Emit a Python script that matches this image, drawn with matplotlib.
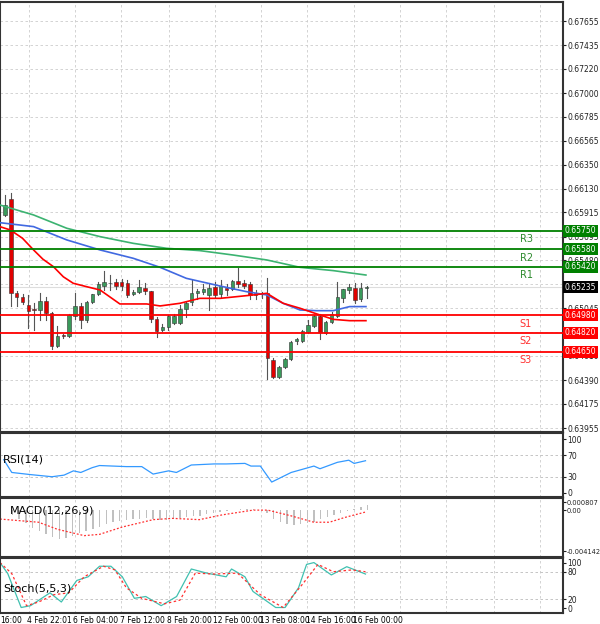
import matplotlib
matplotlib.use("Agg")
import matplotlib.pyplot as plt
import numpy as np

# ---------------- data ----------------
opens  = [0.6589,0.6604,0.6518,0.6515,0.6507,0.6504,0.6503,0.6511,0.6500,0.6470,0.6480,0.6479,0.6497,0.6506,0.6494,0.6510,
          0.6517,0.6525,0.6527,0.6528,0.6528,0.6527,0.6517,0.6519,0.6523,0.6520,0.6495,0.6485,0.6487,0.6491,0.6491,0.6504,
          0.6510,0.6518,0.6519,0.6516,0.6524,0.6517,0.6523,0.6522,0.6529,0.6527,0.6526,0.6518,0.6517,0.6518,0.6457,0.6442,
          0.6451,0.6458,0.6475,0.6475,0.6483,0.6488,0.6497,0.6482,0.6492,0.6497,0.6514,0.6521,0.6523,0.6513,0.6523]
highs  = [0.6607,0.6609,0.6520,0.6517,0.6516,0.6509,0.6518,0.6515,0.6501,0.6488,0.6481,0.6499,0.6518,0.6509,0.6511,0.6517,
          0.6528,0.6538,0.6535,0.6531,0.6531,0.6530,0.6521,0.6530,0.6527,0.6520,0.6496,0.6490,0.6498,0.6499,0.6507,0.6510,
          0.6530,0.6522,0.6526,0.6527,0.6528,0.6530,0.6526,0.6530,0.6541,0.6530,0.6528,0.6521,0.6519,0.6532,0.6459,0.6452,
          0.6459,0.6475,0.6477,0.6485,0.6494,0.6498,0.6499,0.6493,0.6501,0.6528,0.6522,0.6526,0.6527,0.6527,0.6525]
lows   = [0.6588,0.6506,0.6506,0.6508,0.6486,0.6485,0.6494,0.6494,0.6467,0.6469,0.6477,0.6478,0.6495,0.6486,0.6492,0.6509,
          0.6516,0.6521,0.6521,0.6522,0.6521,0.6515,0.6516,0.6518,0.6517,0.6492,0.6478,0.6484,0.6485,0.6490,0.6490,0.6496,
          0.6507,0.6513,0.6517,0.6503,0.6515,0.6515,0.6516,0.6521,0.6524,0.6523,0.6513,0.6513,0.6514,0.6440,0.6441,0.6441,
          0.6450,0.6457,0.6472,0.6474,0.6482,0.6487,0.6476,0.6481,0.6491,0.6496,0.6510,0.6518,0.6509,0.6511,0.6514]
closes = [0.6598,0.6518,0.6515,0.6510,0.6502,0.6503,0.6511,0.6500,0.6470,0.6479,0.6479,0.6498,0.6506,0.6494,0.6510,0.6517,
          0.6526,0.6528,0.6527,0.6525,0.6525,0.6516,0.6519,0.6524,0.6520,0.6495,0.6484,0.6487,0.6497,0.6497,0.6504,0.6509,
          0.6518,0.6520,0.6522,0.6523,0.6516,0.6525,0.6521,0.6529,0.6526,0.6525,0.6516,0.6516,0.6517,0.6459,0.6442,0.6451,
          0.6458,0.6474,0.6476,0.6484,0.6489,0.6497,0.6483,0.6492,0.6499,0.6515,0.6522,0.6524,0.6512,0.6523,0.6524]

ma_red_x = [-0.9,0.9,3.0,4.9,6.5,8.3,10.0,11.7,14,16.3,19.7,24.3,26.6,30,33.4,36.9,42.6,44.9,47.7,50.6,54,56.3,59.1,61.9]
ma_red_y = [0.65786,0.65756,0.65680,0.65574,0.65490,0.65422,0.65330,0.65271,0.65240,0.65210,0.65083,0.65083,0.65065,
            0.65089,0.65134,0.65134,0.65165,0.65180,0.65089,0.65044,0.64983,0.64943,0.64931,0.64931]
ma_blue_x = [-0.9,4.9,10.6,16.3,22,26.6,31.1,36.9,41.4,44.9,47.7,50.6,53.4,56.3,59.1,61.9]
ma_blue_y = [0.65822,0.65786,0.65665,0.65574,0.65498,0.65416,0.65316,0.65246,0.65195,0.65165,0.65089,0.65028,0.65022,
             0.65022,0.65059,0.65059]
ma_green_x = [-0.9,4.9,10.6,16.3,22,27.7,33.4,39.1,44.9,50.6,56.3,61.9]
ma_green_y = [0.65983,0.65892,0.65771,0.65695,0.65634,0.65589,0.65568,0.65528,0.65483,0.65416,0.65386,0.65346]

res_levels = [0.6542,0.6558,0.6575]
res_names = ["R1","R2","R3"]
sup_levels = [0.6498,0.6482,0.6465]
sup_names = ["S1","S2","S3"]
last_price = 0.65235

price_ticks = [0.67655,0.67435,0.67220,0.67000,0.66785,0.66565,0.66350,0.66130,0.65915,0.65695,0.65480,0.65260,
               0.65045,0.64825,0.64610,0.64390,0.64175,0.63955]

rsi_x = [-0.22,1.16,4.38,8.06,10.12,11.73,13.0,14.95,16.2,20.8,23.45,25.4,28.05,29.4,31.95,35.86,37.93,41.15,42.18,
         43.79,45.74,49.08,52.98,54.02,57.0,58.96,59.87,61.83]
rsi_y = [62,38,34,30,33,41,38,47,51,49,49,35,41,38,52,54,54,55,50,50,20,38,50,45,57,61,55,60]

macd_hist = [-0.5,-0.9,-1.3,-1.8,-2.1,-2.4,-2.7,-2.9,-2.8,-2.6,-2.3,-2.1,-1.9,-1.7,-1.4,-1.2,-1.1,-1.0,-0.9,-0.9,-0.8,
             -0.9,-1.0,-1.0,-0.9,-0.8,-0.7,-0.6,-0.6,-0.4,-0.3,-0.2,-0.1,0.0,0.1,0.1,0.1,0.05,-0.3,-0.9,-1.2,-1.4,-1.5,
             -1.4,-1.3,-1.2,-0.9,-0.7,-0.5,-0.3,-0.1,0.1,0.3,0.5]
macd_sig_x = [-0.86,5.76,8.98,13.57,16.21,20.12,25.41,28.74,33.33,37.24,42.53,45.05,49.08,52.98,55.62,58.27,61.83]
macd_sig_y = [-0.9,-1.22,-1.93,-2.57,-2.44,-1.7,-0.96,-0.83,-0.96,-0.48,0.0,0.0,-0.58,-1.22,-1.22,-0.74,-0.19]

st_k_x = [-0.86,0.47,2.77,4.38,7.71,9.66,12.31,14.26,16.21,18.17,20.12,22.19,24.14,26.78,29.43,31.95,34.6,37.93,38.85,
          41.15,42.53,46.43,48.04,50.34,51.72,52.98,55.97,58.61,61.83]
st_k_y = [100,76,2,6,34,14,61,69,92,92,69,22,26,6,26,86,77,69,86,69,37,2,2,45,96,100,73,91,75]
st_d_x = [-0.86,1.16,3.69,5.76,8.4,10.93,13.57,16.9,18.86,20.81,23.45,27.36,30.0,32.64,35.86,39.88,43.79,47.7,51.03,
          53.67,56.31,59.53,61.83]
st_d_y = [100,76,6,14,30,34,69,92,84,45,22,10,18,77,75,77,30,2,53,96,80,84,80]

date_labels = ["16:00","4 Feb 22:01","6 Feb 04:00","7 Feb 12:00","8 Feb 20:00","12 Feb 00:00","13 Feb 08:00","14 Feb 16:00","16 Feb 00:00"]
date_idx = [-0.86,3.8,11.7,19.7,27.8,35.7,43.7,51.6,59.7]

# ---------------- drawing ----------------
W, H = 600, 624
fig = plt.figure(figsize=(6, 6.24), dpi=100)
fig.patch.set_facecolor("white")
def ax_at(x0, y0, x1, y1):
    return fig.add_axes([x0/W, 1-y1/H, (x1-x0)/W, (y1-y0)/H])

xl = (-0.86, 95.7)
grid_x = [4.1,12,19.9,28.1,36,43.9,51.8,59.9,67.8,75.6,83.9,91.8]
TF = 5.5

def style(ax):
    ax.set_xlim(*xl)
    ax.set_xticks([])
    ax.yaxis.tick_right()
    ax.tick_params(axis="y", labelsize=TF, length=2, pad=1, colors="#222222")
    for s in ax.spines.values():
        s.set_color("#333333"); s.set_linewidth(1.5)
    for gx in grid_x:
        ax.axvline(gx, color="#cccccc", lw=0.6, ls=(0, (3, 3)), zorder=0)

ax = ax_at(0, 2, 563, 432)
style(ax)
ax.set_ylim(0.63919, 0.67828)
ax.set_yticks(price_ticks)
ax.set_yticklabels([f"{t:.5f}" for t in price_ticks])
for t in price_ticks:
    ax.axhline(t, color="#cccccc", lw=0.6, ls=(0, (3, 3)), zorder=0)

for i, (o, h, l, c) in enumerate(zip(opens, highs, lows, closes)):
    col = "#3a9a5b" if c >= o else "#e00000"
    ax.plot([i, i], [l, h], color="#555555", lw=0.8, zorder=2)
    lo, hi = min(o, c), max(o, c)
    ax.bar(i, max(hi-lo, 0.00003), bottom=lo, width=0.6, color=col, edgecolor="#333333", lw=0.4, zorder=3)

ax.plot(ma_green_x, ma_green_y, color="#3cb371", lw=1.2, zorder=4)
ax.plot(ma_blue_x, ma_blue_y, color="#4169e1", lw=1.2, zorder=4)
ax.plot(ma_red_x, ma_red_y, color="#ff0000", lw=1.2, zorder=4)

ax.axhline(last_price, color="#dddddd", lw=0.8, zorder=1)
def box(lv, fc):
    ax.text(1.003, lv, f"{lv:.5f}", transform=ax.get_yaxis_transform(), fontsize=TF, color="white",
            va="center", ha="left", bbox=dict(boxstyle="square,pad=0.2", fc=fc, ec="none"), zorder=10)
for lv, nm in zip(res_levels, res_names):
    ax.axhline(lv, color="#008000", lw=1.3, zorder=5)
    ax.text(88.3, lv-0.0003, nm, color="#2e8b2e", fontsize=7, va="top")
    box(lv, "#008000")
for lv, nm in zip(sup_levels, sup_names):
    ax.axhline(lv, color="#ff0000", lw=1.3, zorder=5)
    ax.text(88.3, lv-0.0003, nm, color="#ff3030", fontsize=7, va="top")
    box(lv, "#ff0000")
box(last_price, "#000000")

# RSI
ar = ax_at(0, 433, 563, 497)
style(ar)
ar.set_ylim(-8, 112)
ar.set_yticks([0, 30, 70, 100])
for t in (30, 70):
    ar.axhline(t, color="#bbbbbb", lw=0.6, ls=(0, (3, 3)))
ar.plot(rsi_x, rsi_y, color="#3399ff", lw=0.9)
ar.text(0.005, 0.58, "RSI(14)", transform=ar.transAxes, fontsize=8, va="center")

# MACD
am = ax_at(0, 498, 563, 557)
style(am)
am.tick_params(axis="y", labelsize=4.8, pad=0.5)
am.set_ylim(-4.72, 1.22)
am.set_yticks([0.807, 0.0, -4.142])
am.set_yticklabels(["0.000807", "0.00", "-0.004142"])
am.bar(np.arange(1, 1+len(macd_hist))*1.149+0.128, macd_hist, width=0.25, color="#c0c0c0")
am.plot(macd_sig_x, macd_sig_y, color="#ff3030", lw=0.9, ls=(0, (1.5, 1.5)))
am.text(0.017, 0.78, "MACD(12,26,9)", transform=am.transAxes, fontsize=8, va="center")

# Stoch
ast = ax_at(0, 558, 563, 613)
style(ast)
ast.set_ylim(-10, 110)
ast.set_yticks([0, 20, 80, 100])
for t in (20, 80):
    ast.axhline(t, color="#bbbbbb", lw=0.6, ls=(0, (3, 3)))
ast.plot(st_k_x, st_k_y, color="#40c0b0", lw=0.9)
ast.plot(st_d_x, st_d_y, color="#ff3030", lw=0.9, ls=(0, (2, 2)))
ast.text(0.005, 0.44, "Stoch(5,5,3)", transform=ast.transAxes, fontsize=8, va="center")

for lab, di in zip(date_labels, date_idx):
    ast.text(di, -0.05, lab, transform=ast.get_xaxis_transform(), fontsize=TF, va="top", ha="left")

fig.savefig("out.png", dpi=100)
